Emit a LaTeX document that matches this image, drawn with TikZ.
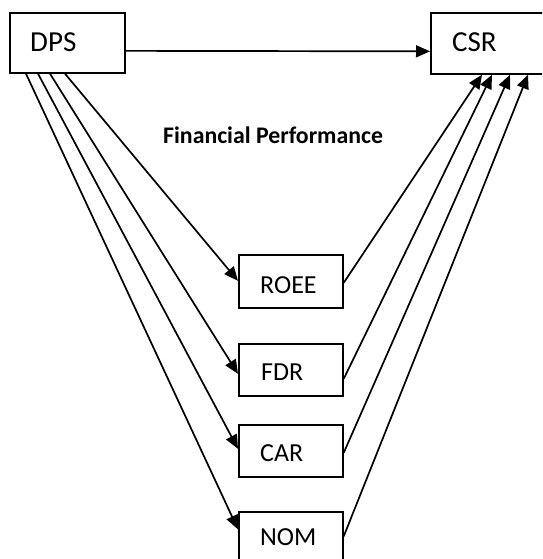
\documentclass[tikz,border=0pt]{standalone}
\usepackage{fontspec}
\setmainfont{Carlito}
\usetikzlibrary{arrows.meta,calc}
\begin{document}
\begin{tikzpicture}[x=1pt,y=-1pt,
  box/.style={draw,line width=1.7pt,rectangle,anchor=north west,inner xsep=0pt,inner ysep=0pt,
     text height=0pt,text depth=0pt,align=left},
  conn/.style={line width=1.7pt,-{Triangle[length=14pt,width=12pt]}},
  big/.style={font=\fontsize{29}{30}\selectfont},
  small/.style={font=\fontsize{26}{27}\selectfont}]
\useasboundingbox (0,0) rectangle (542,559);
\clip (0,0) rectangle (542,559);
% boxes
\node[box,minimum width=115pt,minimum height=60pt] (dps) at (9,12) {};
\node[box,minimum width=115pt,minimum height=61pt] (csr) at (430,12) {};
\node[box,minimum width=104pt,minimum height=53pt] (roee) at (238,254) {};
\node[box,minimum width=104pt,minimum height=52pt] (fdr) at (238,343) {};
\node[box,minimum width=104pt,minimum height=52pt] (car) at (238,424) {};
\node[box,minimum width=104pt,minimum height=53pt] (nom) at (238,511) {};
% labels
\node[big,anchor=base west,inner sep=0pt] (tdps) at (30,52) {DPS};
\node[big,anchor=base west,inner sep=0pt] (tcsr) at (452,52) {CSR};
\node[small,anchor=base west,inner sep=0pt] (troee) at (260,293) {ROEE};
\node[small,anchor=base west,inner sep=0pt] (tfdr) at (261,380) {FDR};
\node[small,anchor=base west,inner sep=0pt] (tcar) at (260,461) {CAR};
\node[small,anchor=base west,inner sep=0pt] (tnom) at (260,545) {NOM};
\node[anchor=base west,inner sep=0pt,font=\fontsize{23.8}{25}\selectfont\bfseries] (fp) at (163,143) {Financial Performance};
% connectors
\draw[conn] ($(dps.east)+(0,8)$) -- ($(csr.west)+(0,8)$);
\draw[conn] ($(dps.south west)+(56,0)$) -- ($(roee.west)+(0,-0.5)$);
\draw[conn] ($(dps.south west)+(41,0)$) -- ($(fdr.west)+(0,4)$);
\draw[conn] ($(dps.south west)+(29,0)$) -- ($(car.west)+(0,-2)$);
\draw[conn] ($(dps.south west)+(17,0)$) -- ($(nom.west)+(0,-9)$);
\draw[conn] ($(roee.east)+(0,1.5)$) -- ($(csr.south west)+(52,0)$);
\draw[conn] ($(fdr.east)+(0,9)$) -- ($(csr.south west)+(62,0)$);
\draw[conn] ($(car.east)+(0,2)$) -- ($(csr.south west)+(80,0)$);
\draw[conn] ($(nom.east)+(0,-2)$) -- ($(csr.south west)+(98,0)$);
\end{tikzpicture}
\end{document}
